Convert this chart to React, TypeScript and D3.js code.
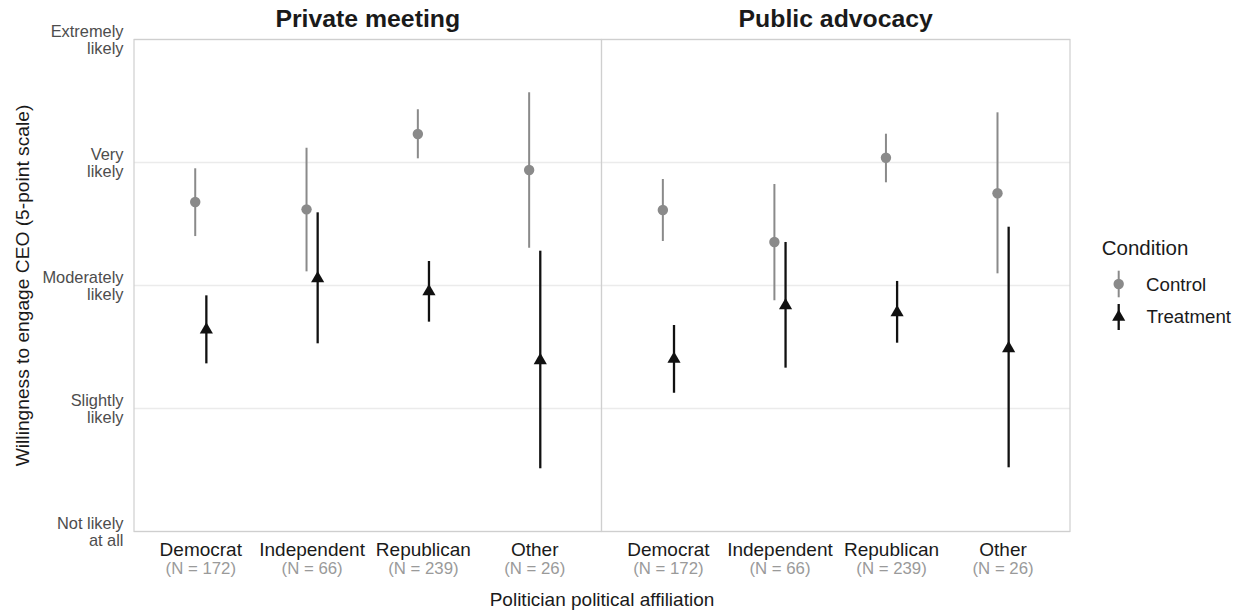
import React from "react";
import * as d3 from "d3";

const categories = ["Democrat", "Independent", "Republican", "Other"];
const sampleSizes = ["N = 172", "N = 66", "N = 239", "N = 26"];
const panels = ["Private meeting", "Public advocacy"];
const conditions = ["Control", "Treatment"];
const yTicks = [1, 2, 3, 4, 5];
const yTickLabels = [
  ["Not likely", "at all"],
  ["Slightly", "likely"],
  ["Moderately", "likely"],
  ["Very", "likely"],
  ["Extremely", "likely"],
];

// Private meeting
const privControlMean = [3.679, 3.619, 4.232, 3.939];
const privControlLow = [3.402, 3.115, 4.034, 3.307];
const privControlHigh = [3.953, 4.12, 4.433, 4.571];
const privTreatMean = [2.64, 3.057, 2.951, 2.391];
const privTreatLow = [2.367, 2.53, 2.706, 1.514];
const privTreatHigh = [2.92, 3.595, 3.199, 3.283];

// Public advocacy
const pubControlMean = [3.614, 3.354, 4.039, 3.75];
const pubControlLow = [3.362, 2.88, 3.839, 3.099];
const pubControlHigh = [3.866, 3.825, 4.234, 4.408];
const pubTreatMean = [2.402, 2.837, 2.78, 2.489];
const pubTreatLow = [2.128, 2.332, 2.535, 1.522];
const pubTreatHigh = [2.679, 3.354, 3.037, 3.478];

const panelData = [
  {
    control: { mean: privControlMean, low: privControlLow, high: privControlHigh },
    treatment: { mean: privTreatMean, low: privTreatLow, high: privTreatHigh },
  },
  {
    control: { mean: pubControlMean, low: pubControlLow, high: pubControlHigh },
    treatment: { mean: pubTreatMean, low: pubTreatLow, high: pubTreatHigh },
  },
];

const FONT = "'Liberation Sans', Arial, Helvetica, sans-serif";
const CONTROL_COLOR = "#8a8a8a";
const TREAT_COLOR = "#111111";

const W = 1243;
const H = 612;
const panelX = [
  [134, 601.5],
  [601.5, 1070],
];
const yTop = 39.5;
const yBottom = 531.5;

function triPath(cx: number, cy: number, r: number) {
  const xc = (r * Math.sqrt(3)) / 2;
  return `M${cx},${cy - r}L${cx + xc},${cy + r / 2}L${cx - xc},${cy + r / 2}Z`;
}

export default function App() {
  const y = d3.scaleLinear().domain([1, 5]).range([yBottom, yTop]);
  const triR = 7.6;

  return (
    <svg
      width={W}
      height={H}
      style={{ position: "absolute", left: 0, top: 0, background: "#fff" }}
      fontFamily={FONT}
    >
      <rect x={0} y={0} width={W} height={H} fill="#fff" />
      {panels.map((title, pi) => {
        const [x0, x1] = panelX[pi];
        const x = d3.scalePoint<string>().domain(categories).range([x0, x1]).padding(0.6);
        const dodge = x.step() * 0.05;
        const pd = panelData[pi];
        return (
          <g key={title}>
            {yTicks.map((t) => (
              <line key={t} x1={x0} x2={x1} y1={y(t)} y2={y(t)} stroke="#ebebeb" strokeWidth={1.3} />
            ))}
            <rect x={x0} y={yTop} width={x1 - x0} height={yBottom - yTop} fill="none" stroke="#cfcfcf" strokeWidth={1.2} />
            <text
              x={(x0 + x1) / 2}
              y={27}
              textAnchor="middle"
              fontWeight="bold"
              fontSize={24.8}
              fill="#1a1a1a"
            >
              {title}
            </text>
            {categories.map((c, i) => {
              const cx = x(c)!;
              return (
                <g key={c}>
                  <line
                    x1={cx - dodge}
                    x2={cx - dodge}
                    y1={y(pd.control.low[i])}
                    y2={y(pd.control.high[i])}
                    stroke={CONTROL_COLOR}
                    strokeWidth={2}
                  />
                  <circle cx={cx - dodge} cy={y(pd.control.mean[i])} r={5.2} fill={CONTROL_COLOR} />
                  <line
                    x1={cx + dodge}
                    x2={cx + dodge}
                    y1={y(pd.treatment.low[i])}
                    y2={y(pd.treatment.high[i])}
                    stroke={TREAT_COLOR}
                    strokeWidth={2.3}
                  />
                  <path d={triPath(cx + dodge, y(pd.treatment.mean[i]), triR)} fill={TREAT_COLOR} />
                  <text x={cx} y={555.5} textAnchor="middle" fontSize={19} fill="#1a1a1a">
                    {c}
                  </text>
                  <text x={cx} y={574} textAnchor="middle" fontSize={16.8} fill="#9a9a9a">
                    {"(" + sampleSizes[i] + ")"}
                  </text>
                </g>
              );
            })}
          </g>
        );
      })}
      {yTicks.map((t, i) => (
        <text key={t} textAnchor="end" fontSize={16.4} fill="#4d4d4d">
          <tspan x={123.5} y={y(t) - 2.5}>
            {yTickLabels[i][0]}
          </tspan>
          <tspan x={123.5} y={y(t) + 14.7}>
            {yTickLabels[i][1]}
          </tspan>
        </text>
      ))}
      <text
        transform={`translate(29,${(yTop + yBottom) / 2}) rotate(-90)`}
        textAnchor="middle"
        fontSize={19.2}
        fill="#1a1a1a"
      >
        Willingness to engage CEO (5-point scale)
      </text>
      <text x={(panelX[0][0] + panelX[1][1]) / 2} y={606} textAnchor="middle" fontSize={19} fill="#1a1a1a">
        Politician political affiliation
      </text>
      <g>
        <text x={1101.7} y={255} fontSize={20.5} fill="#1a1a1a">
          Condition
        </text>
        <line x1={1118.7} x2={1118.7} y1={270.7} y2={297.3} stroke={CONTROL_COLOR} strokeWidth={2} />
        <circle cx={1118.7} cy={284} r={5.2} fill={CONTROL_COLOR} />
        <text x={1146} y={291} fontSize={18.7} fill="#1a1a1a">
          {conditions[0]}
        </text>
        <line x1={1118.7} x2={1118.7} y1={304} y2={330} stroke={TREAT_COLOR} strokeWidth={2.3} />
        <path d={triPath(1118.7, 317, triR)} fill={TREAT_COLOR} />
        <text x={1146.5} y={323.3} fontSize={18.7} fill="#1a1a1a">
          {conditions[1]}
        </text>
      </g>
    </svg>
  );
}
